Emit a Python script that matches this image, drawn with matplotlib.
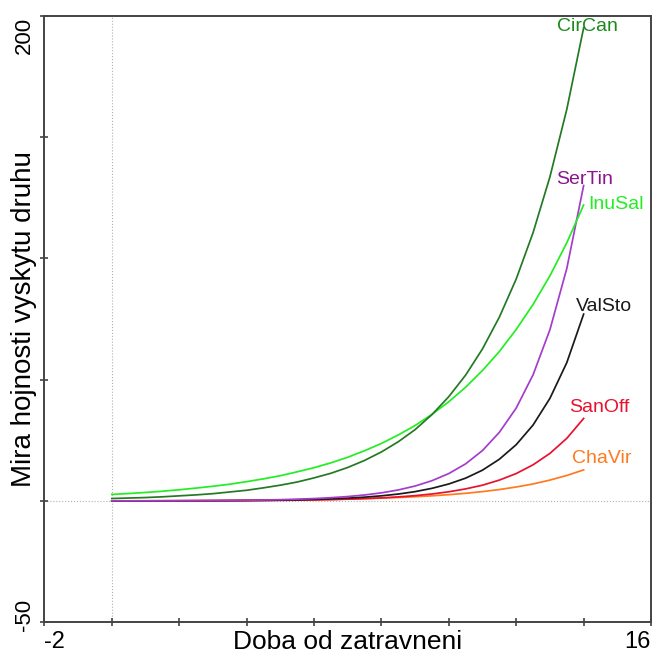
import numpy as np
import matplotlib
matplotlib.use("Agg")
import matplotlib.pyplot as plt

plt.rcParams['font.family'] = ['Liberation Sans', 'DejaVu Sans']

# time since grassing (0 .. 14, half steps) and species response curves
doba = np.arange(0, 14.01, 0.5)
CirCan = [1.0, 1.2, 1.4, 1.7, 2.1, 2.5, 3.0, 3.7, 4.4, 5.4, 6.5, 7.8, 9.5, 11.4, 13.8,
          16.7, 20.2, 24.4, 29.4, 35.6, 43.0, 51.9, 62.7, 75.8, 91.5, 110.6, 133.6, 161.4, 195.0]
InuSal = [2.7, 3.05, 3.5, 4.0, 4.6, 5.3, 6.05, 6.9, 7.95, 9.1, 10.4, 12.0, 13.7, 15.7, 18.0,
          20.7, 23.7, 27.2, 31.1, 35.7, 40.9, 46.9, 53.8, 61.6, 70.7, 81.0, 92.8, 106.4, 122.0]
SerTin = [0.03, 0.03, 0.05, 0.06, 0.09, 0.12, 0.16, 0.21, 0.29, 0.39, 0.53, 0.73, 0.98, 1.34, 1.81,
          2.46, 3.34, 4.53, 6.15, 8.35, 11.3, 15.3, 20.8, 28.3, 38.3, 52.0, 70.6, 95.8, 130.0]
ValSto = [0.02, 0.02, 0.03, 0.04, 0.06, 0.08, 0.10, 0.14, 0.19, 0.26, 0.35, 0.47, 0.64, 0.86, 1.16,
          1.56, 2.11, 2.84, 3.84, 5.2, 7.0, 9.4, 12.7, 17.2, 23.2, 31.3, 42.3, 57.0, 77.0]
SanOff = [0.02, 0.02, 0.03, 0.04, 0.05, 0.06, 0.08, 0.11, 0.14, 0.18, 0.24, 0.32, 0.42, 0.55, 0.73,
          0.96, 1.26, 1.66, 2.18, 2.87, 3.78, 4.97, 6.5, 8.6, 11.3, 14.9, 19.6, 25.8, 34.0]
ChaVir = [0.05, 0.06, 0.07, 0.09, 0.10, 0.13, 0.16, 0.19, 0.23, 0.28, 0.35, 0.42, 0.52, 0.63, 0.78,
          0.95, 1.16, 1.41, 1.73, 2.11, 2.58, 3.15, 3.85, 4.7, 5.75, 7.0, 8.6, 10.5, 12.8]

fig = plt.figure(figsize=(6.53, 6.55), dpi=100)
ax = fig.add_axes([0.068, 0.05, 0.929, 0.926])

# dotted zero lines
ax.axvline(0, color='#b0b0b0', lw=0.8, ls=':', zorder=1)
ax.axhline(0, color='#b0b0b0', lw=0.8, ls=':', zorder=1)

# curves: (values, line colour, label colour, label x, label y)
curves = [
    (ChaVir, '#ff7a1e', '#ff7a1e', 'ChaVir', 13.65, 17.6),
    (SanOff, '#e8122e', '#e8122e', 'SanOff', 13.56, 38.6),
    (ValSto, '#1a1a1a', '#1a1a1a', 'ValSto', 13.77, 80.2),
    (SerTin, '#a43ccc', '#8c148c', 'SerTin', 13.18, 132.4),
    (InuSal, '#22ee22', '#22ee22', 'InuSal', 14.13, 122.3),
    (CirCan, '#237a23', '#1a8a1a', 'CirCan', 13.22, 195.5),
]
for vals, col, tcol, name, tx, ty in curves:
    ax.plot(doba, vals, color=col, lw=1.25, zorder=3)
    ax.text(tx, ty, name, color=tcol, fontsize=14, ha='left', va='center', zorder=4)

ax.set_xlim(-2, 16)
ax.set_ylim(-50, 200)
ax.set_xticks(np.arange(-2, 17, 2))
ax.set_yticks(np.arange(-50, 201, 50))
ax.set_xticklabels([])
ax.set_yticklabels([])
ax.tick_params(direction='inout', length=6, width=1.1, color='#333333')
for s in ax.spines.values():
    s.set_color('#444444')
    s.set_linewidth(1.4)

# end labels of the axes
tr_y = ax.get_yaxis_transform()
tr_x = ax.get_xaxis_transform()
ax.text(-0.033, 192, '200', transform=tr_y, rotation=90, fontsize=16, ha='center', va='center')
ax.text(-0.033, -47, '-50', transform=tr_y, rotation=90, fontsize=16, ha='center', va='center')
ax.text(-2, -0.033, '-2', transform=tr_x, fontsize=17, ha='left', va='center')
ax.text(16, -0.033, '16', transform=tr_x, fontsize=17, ha='right', va='center')

ax.text(0.5, -0.033, 'Doba od zatravneni', transform=ax.transAxes, fontsize=19, ha='center', va='center')
ax.text(-0.034, 0.5, 'Mira hojnosti vyskytu druhu', transform=ax.transAxes, rotation=90,
        fontsize=20, ha='center', va='center')

fig.savefig('out.png', dpi=100)
